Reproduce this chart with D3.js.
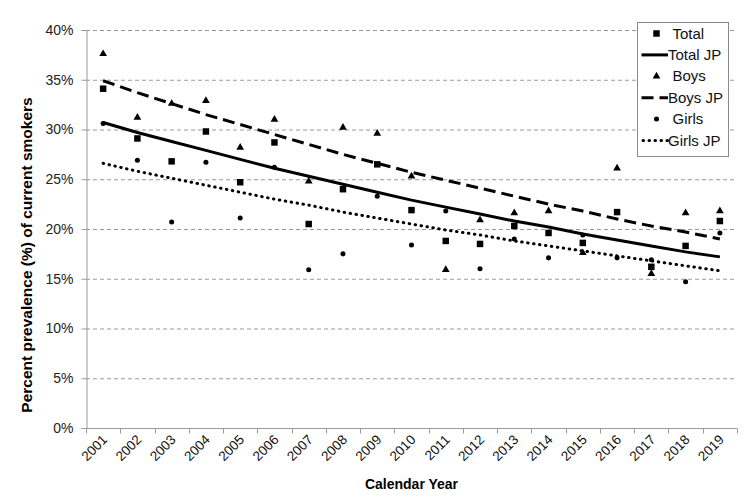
<!DOCTYPE html>
<html>
<head>
<meta charset="utf-8">
<script src="https://cdn.jsdelivr.net/npm/d3@7"></script>
<style>
  body { margin: 0; background: #fff; }
  text { font-family: "Liberation Sans", Arial, sans-serif; }
</style>
</head>
<body>
<div id="chart"></div>
<script>
const years = ["2001","2002","2003","2004","2005","2006","2007","2008","2009","2010",
               "2011","2012","2013","2014","2015","2016","2017","2018","2019"];

// observed prevalence (%)
const total = [34.1, 29.1, 26.8, 29.8, 24.7, 28.7, 20.5, 24.0, 26.5, 21.9,
               18.8, 18.5, 20.3, 19.6, 18.6, 21.7, 16.2, 18.3, 20.8];
const boys  = [37.6, 31.2, 32.6, 32.9, 28.2, 31.0, 24.8, 30.2, 29.6, 25.3,
               15.9, 20.9, 21.6, 21.8, 17.6, 26.1, 15.5, 21.6, 21.8];
const girls = [30.6, 26.9, 20.7, 26.7, 21.1, 26.2, 15.9, 17.5, 23.3, 18.4,
               21.8, 16.0, 19.0, 17.1, 19.4, 17.1, 16.9, 14.7, 19.6];

// joinpoint fitted lines (%)
const totalJP = [30.7, 29.7, 28.8, 27.9, 27.0, 26.1, 25.3, 24.5, 23.7, 22.9,
                 22.2, 21.5, 20.8, 20.2, 19.5, 18.9, 18.3, 17.7, 17.2];
const boysJP  = [34.9, 33.7, 32.6, 31.5, 30.5, 29.5, 28.5, 27.5, 26.6, 25.7,
                 24.9, 24.1, 23.3, 22.5, 21.8, 21.0, 20.3, 19.7, 19.0];
const girlsJP = [26.6, 25.8, 25.1, 24.4, 23.7, 23.0, 22.4, 21.7, 21.1, 20.5,
                 19.9, 19.4, 18.8, 18.3, 17.8, 17.3, 16.8, 16.3, 15.8];

const yTicks = [0, 5, 10, 15, 20, 25, 30, 35, 40];

const width = 755, height = 499;
const margin = {top: 30, right: 18, bottom: 71, left: 86};

const svg = d3.select("#chart").append("svg")
    .attr("width", width)
    .attr("height", height);

const x = d3.scaleBand()
    .domain(years)
    .range([margin.left, width - margin.right]);

const y = d3.scaleLinear()
    .domain([0, 40])
    .range([height - margin.bottom, margin.top]);

// gridlines
svg.append("g")
    .selectAll("line")
    .data(yTicks.filter(d => d > 0))
    .join("line")
    .attr("x1", margin.left)
    .attr("x2", width - margin.right)
    .attr("y1", d => y(d) + 0.5)
    .attr("y2", d => y(d) + 0.5)
    .attr("stroke", "#9a9a9a")
    .attr("stroke-dasharray", "4,3");

// y axis
const yAxis = svg.append("g")
    .attr("transform", `translate(${margin.left + 0.5},0)`)
    .call(d3.axisLeft(y).tickValues(yTicks).tickFormat(d => d + "%").tickSize(5).tickPadding(8));
yAxis.select(".domain").attr("stroke", "#9a9a9a");
yAxis.selectAll(".tick line").attr("stroke", "#9a9a9a");
yAxis.selectAll("text").attr("font-size", 14).attr("fill", "#222")
    .style("font-family", "Liberation Sans, Arial, sans-serif");

// x axis with ticks between categories
const xAxisG = svg.append("g")
    .attr("transform", `translate(0,${y(0) + 0.5})`);
xAxisG.append("line")
    .attr("x1", margin.left).attr("x2", width - margin.right)
    .attr("stroke", "#9a9a9a");
const bounds = years.map(d => x(d)).concat([x(years[years.length - 1]) + x.bandwidth()]);
xAxisG.selectAll(".tk")
    .data(bounds)
    .join("line")
    .attr("class", "tk")
    .attr("x1", d => Math.round(d) + 0.5).attr("x2", d => Math.round(d) + 0.5)
    .attr("y1", 0).attr("y2", 5)
    .attr("stroke", "#9a9a9a");
xAxisG.selectAll(".lbl")
    .data(years)
    .join("text")
    .attr("class", "lbl")
    .attr("transform", d => `translate(${x(d) + x.bandwidth() / 2 + 5},${12}) rotate(-45)`)
    .attr("text-anchor", "end")
    .attr("font-size", 13.5)
    .attr("fill", "#111")
    .text(d => d);

// axis titles
svg.append("text")
    .attr("x", (margin.left + width - margin.right) / 2)
    .attr("y", 489)
    .attr("text-anchor", "middle")
    .attr("font-size", 14)
    .attr("font-weight", "bold")
    .text("Calendar Year");

svg.append("text")
    .attr("transform", `translate(32,255) rotate(-90)`)
    .attr("text-anchor", "middle")
    .attr("font-size", 15.5)
    .attr("font-weight", "bold")
    .text("Percent prevalence (%) of current smokers");

const cx = (d, i) => x(years[i]) + x.bandwidth() / 2;

// fitted lines
const lineStyles = [
  {data: totalJP, dash: null},
  {data: boysJP, dash: "12,6"},
  {data: girlsJP, dash: "0.5,5.5", cap: "round"}
];
lineStyles.forEach(s => {
  svg.append("path")
    .datum(s.data)
    .attr("fill", "none")
    .attr("stroke", "#000")
    .attr("stroke-width", 3)
    .attr("stroke-dasharray", s.dash)
    .attr("stroke-linecap", s.cap || "butt")
    .attr("d", d3.line().x(cx).y(d => y(d)));
});

// markers
const sq = d3.symbol().type(d3.symbolSquare).size(42);
const tri = d3.symbol().type(d3.symbolTriangle).size(26);
const circ = d3.symbol().type(d3.symbolCircle).size(20);

[[total, sq], [boys, tri], [girls, circ]].forEach(([data, sym]) => {
  svg.append("g").selectAll("path")
    .data(data)
    .join("path")
    .attr("transform", (d, i) => `translate(${cx(d, i)},${y(d)})`)
    .attr("d", sym())
    .attr("fill", "#000");
});

// legend
const lg = svg.append("g").attr("transform", "translate(637.5,22.5)");
lg.append("rect")
    .attr("width", 91).attr("height", 134)
    .attr("fill", "#fff").attr("stroke", "#8a8a8a");
const legendItems = [
  {label: "Total", sym: sq},
  {label: "Total JP", dash: null},
  {label: "Boys", sym: tri},
  {label: "Boys JP", dash: "12,6"},
  {label: "Girls", sym: circ},
  {label: "Girls JP", dash: "0.5,5.5", cap: "round"}
];
legendItems.forEach((it, i) => {
  const yy = 11 + i * 21.4;
  if (it.sym) {
    lg.append("path")
      .attr("transform", `translate(19,${yy})`)
      .attr("d", it.sym())
      .attr("fill", "#000");
  } else {
    lg.append("line")
      .attr("x1", it.cap ? 5.5 : 4).attr("x2", 30.5)
      .attr("y1", yy).attr("y2", yy)
      .attr("stroke", "#000").attr("stroke-width", 3)
      .attr("stroke-dasharray", it.dash)
      .attr("stroke-linecap", it.cap || "butt");
  }
  lg.append("text")
    .attr("x", it.sym ? 35 : 30.5).attr("y", yy + 5)
    .attr("font-size", 15)
    .attr("fill", "#111")
    .text(it.label);
});
</script>
</body>
</html>
